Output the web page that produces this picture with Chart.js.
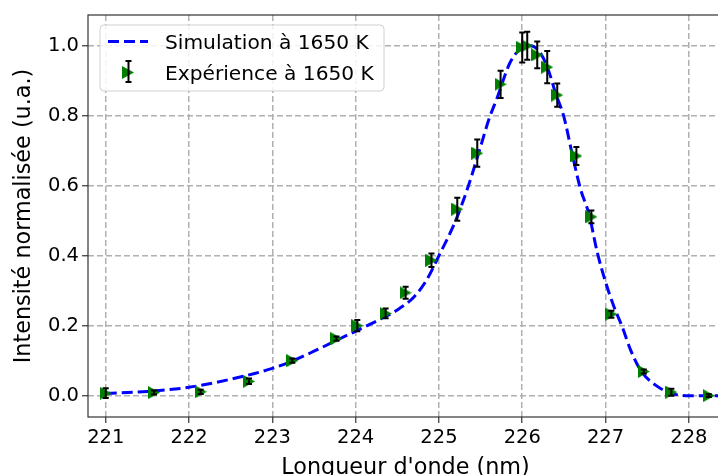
<!DOCTYPE html>
<html><head><meta charset="utf-8">
<script src="https://cdn.jsdelivr.net/npm/chart.js@4.4.0/dist/chart.umd.min.js"></script>
<style>
html,body{margin:0;padding:0;overflow:hidden;background:#fff;width:718px;height:475px}
#wrap{position:absolute;left:0;top:0;width:730px;height:483px}
</style>
</head><body>
<div id="wrap"><canvas id="c" width="730" height="483"></canvas></div>
<script>
// ---- data ----
const simWavelength = [221.00,221.50,222.00,222.50,223.00,223.25,223.50,223.90,224.30,224.50,224.70,224.85,225.00,225.20,225.35,225.50,225.60,225.70,225.85,226.00,226.10,226.20,226.30,226.40,226.50,226.60,226.70,226.80,226.90,227.00,227.10,227.20,227.30,227.42,227.60,227.80,228.00,228.50];
const simIntensity  = [0.006,0.012,0.024,0.047,0.078,0.100,0.127,0.173,0.219,0.245,0.282,0.330,0.400,0.500,0.597,0.712,0.790,0.852,0.950,0.995,1.000,0.985,0.940,0.865,0.797,0.690,0.590,0.520,0.410,0.325,0.255,0.197,0.131,0.073,0.030,0.006,0.000,0.000];
const expWavelength = [221.00,221.58,222.14,222.72,223.24,223.77,224.02,224.36,224.60,224.91,225.22,225.46,225.74,226.00,226.06,226.18,226.30,226.42,226.65,226.83,227.07,227.46,227.79,228.24];
const expIntensity  = [0.007,0.009,0.011,0.041,0.100,0.163,0.200,0.235,0.294,0.387,0.533,0.693,0.890,0.995,1.000,0.974,0.939,0.859,0.685,0.511,0.233,0.069,0.010,0.000];
const expError      = [0.014,0.006,0.006,0.008,0.006,0.006,0.016,0.014,0.017,0.019,0.033,0.039,0.039,0.043,0.040,0.038,0.046,0.033,0.026,0.018,0.010,0.006,0.010,0.004];
const xTicks = [221,222,223,224,225,226,227,228];
const yTicks = [0.0,0.2,0.4,0.6,0.8,1.0];
const legendLabels = ['Simulation à 1650 K','Expérience à 1650 K'];
const xTitle = "Longueur d'onde (nm)";
const yTitle = 'Intensité normalisée (u.a.)';

const FONT = 'DejaVu Sans';
const GREEN = '#008000';
const BLUE = '#0000ff';

function makeTriangle(w, h, color) {
  const c = document.createElement('canvas');
  c.width = w; c.height = h;
  const g = c.getContext('2d');
  g.fillStyle = color;
  g.beginPath(); g.moveTo(0, 0); g.lineTo(w, h / 2); g.lineTo(0, h); g.closePath(); g.fill();
  return c;
}
const tri = makeTriangle(12, 13, GREEN);

function drawErrBar(ctx, x, yTop, yBot) {
  ctx.beginPath();
  ctx.moveTo(x, yTop); ctx.lineTo(x, yBot);
  ctx.moveTo(x - 3, yTop); ctx.lineTo(x + 3, yTop);
  ctx.moveTo(x - 3, yBot); ctx.lineTo(x + 3, yBot);
  ctx.stroke();
}

const overlayPlugin = {
  id: 'overlay',
  afterDatasetsDraw(chart) {
    const ctx = chart.ctx, xs = chart.scales.x, ys = chart.scales.y, a = chart.chartArea;
    ctx.save();
    ctx.beginPath(); ctx.rect(a.left, a.top, a.right - a.left, a.bottom - a.top); ctx.clip();
    ctx.strokeStyle = '#000'; ctx.lineWidth = 2; ctx.setLineDash([]);
    for (let i = 0; i < expWavelength.length; i++) {
      const px = xs.getPixelForValue(expWavelength[i]);
      drawErrBar(ctx, px, ys.getPixelForValue(expIntensity[i] + expError[i]), ys.getPixelForValue(expIntensity[i] - expError[i]));
    }
    ctx.restore();
    // frame
    ctx.save();
    ctx.strokeStyle = '#333'; ctx.lineWidth = 1.2;
    ctx.strokeRect(a.left, a.top, a.right - a.left, a.bottom - a.top);
    ctx.restore();
  },
  afterDraw(chart) {
    const ctx = chart.ctx;
    ctx.save();
    // legend box
    const bx = 100, by = 25, bw = 284, bh = 66, r = 4;
    ctx.beginPath();
    ctx.moveTo(bx + r, by); ctx.lineTo(bx + bw - r, by); ctx.arcTo(bx + bw, by, bx + bw, by + r, r);
    ctx.lineTo(bx + bw, by + bh - r); ctx.arcTo(bx + bw, by + bh, bx + bw - r, by + bh, r);
    ctx.lineTo(bx + r, by + bh); ctx.arcTo(bx, by + bh, bx, by + bh - r, r);
    ctx.lineTo(bx, by + r); ctx.arcTo(bx, by, bx + r, by, r); ctx.closePath();
    ctx.fillStyle = 'rgba(255,255,255,0.85)'; ctx.fill();
    ctx.strokeStyle = '#d0d0d0'; ctx.lineWidth = 1; ctx.stroke();
    // line sample
    ctx.strokeStyle = BLUE; ctx.lineWidth = 3; ctx.setLineDash([11, 5]);
    ctx.beginPath(); ctx.moveTo(108, 41.5); ctx.lineTo(148, 41.5); ctx.stroke();
    ctx.setLineDash([]);
    // marker sample
    ctx.drawImage(tri, 128 - 6, 72.5 - 6.5);
    ctx.strokeStyle = '#000'; ctx.lineWidth = 2;
    drawErrBar(ctx, 128.5, 61, 82);
    // texts
    ctx.fillStyle = '#000';
    ctx.font = '20.2px "' + FONT + '"';
    ctx.textBaseline = 'alphabetic'; ctx.textAlign = 'left';
    ctx.fillText(legendLabels[0], 165, 48.5);
    ctx.fillText(legendLabels[1], 165, 79.5);
    ctx.restore();
  }
};

const simPoints = simWavelength.map((x, i) => ({x, y: simIntensity[i]}));
const expPoints = expWavelength.map((x, i) => ({x, y: expIntensity[i]}));

const gridCommon = {
  color: '#b0b0b0', lineWidth: 1.5,
  tickColor: '#333', tickLength: 6, tickWidth: 1.2, tickBorderDash: []
};

new Chart(document.getElementById('c'), {
  type: 'scatter',
  data: {
    datasets: [
      { label: legendLabels[1], data: expPoints, order: 0, showLine: false,
        pointStyle: tri, pointRadius: 6, pointHoverRadius: 6,
        backgroundColor: GREEN, borderColor: GREEN },
      { label: legendLabels[0], data: simPoints, order: 1, showLine: true,
        borderColor: BLUE, borderWidth: 3, borderDash: [11, 5], pointRadius: 0,
        cubicInterpolationMode: 'monotone', fill: false }
    ]
  },
  options: {
    responsive: false, animation: false, devicePixelRatio: 1,
    layout: { padding: { top: 15, right: 4, bottom: 0, left: 0 } },
    plugins: { legend: { display: false }, tooltip: { enabled: false } },
    scales: {
      x: {
        type: 'linear', min: 220.787, max: 228.41,
        afterBuildTicks: s => { s.ticks = xTicks.map(v => ({value: v})); },
        afterFit: s => { s.height = 66; },
        ticks: { color: '#000', font: { family: FONT, size: 19.5 }, padding: 3, maxRotation: 0,
                 callback: v => String(v) },
        grid: gridCommon,
        border: { display: false, dash: [6, 3] },
        title: { display: true, text: xTitle, color: '#000', font: { family: FONT, size: 22.3 },
                 padding: { top: 0, bottom: 1.5 } }
      },
      y: {
        type: 'linear', min: -0.061, max: 1.088,
        afterBuildTicks: s => { s.ticks = yTicks.map(v => ({value: v})); },
        afterFit: s => { s.width = 88; },
        ticks: { color: '#000', font: { family: FONT, size: 19.5 }, padding: 3,
                 callback: v => Number(v).toFixed(1) },
        grid: gridCommon,
        border: { display: false, dash: [6, 3] },
        title: { display: true, text: yTitle, color: '#000', font: { family: FONT, size: 22.3 },
                 padding: { top: 10.5, bottom: 0 } }
      }
    }
  },
  plugins: [overlayPlugin]
});
</script>
</body></html>
